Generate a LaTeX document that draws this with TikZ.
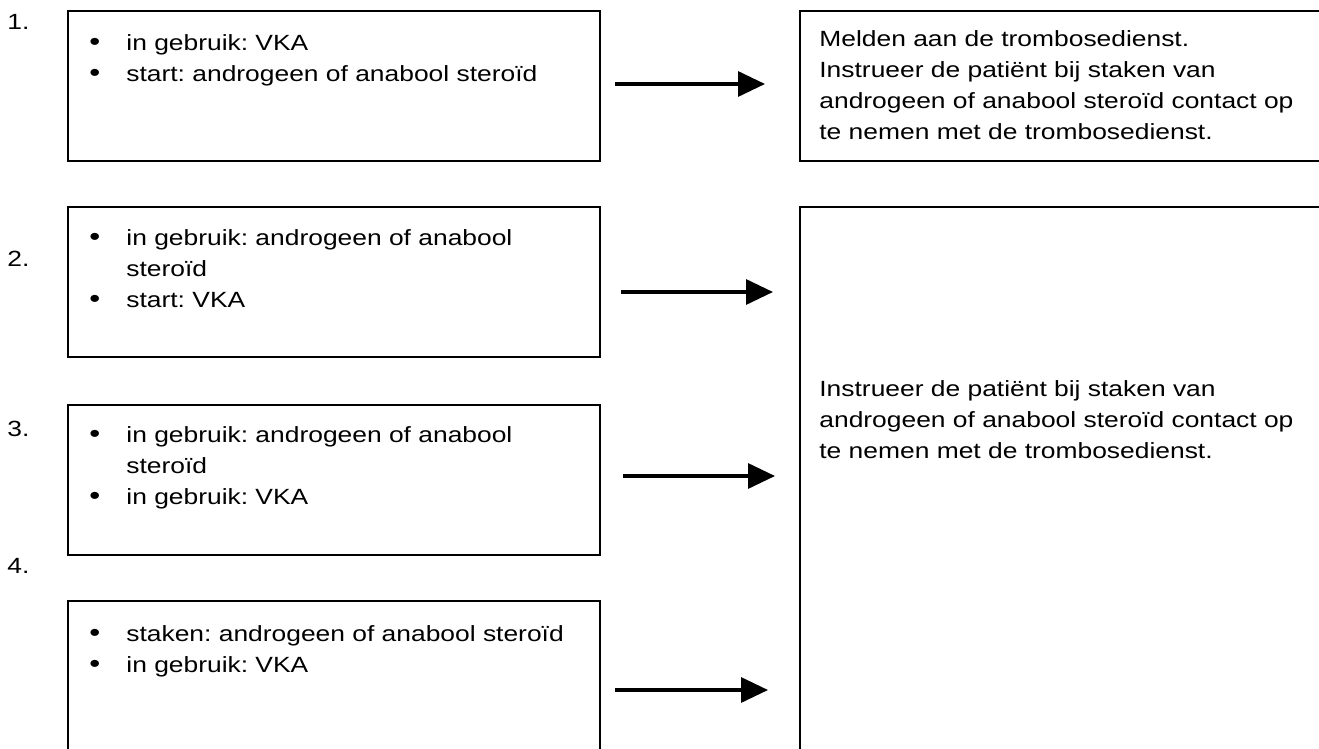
\documentclass[tikz,border=0pt]{standalone}
\usepackage{fontspec}
\setmainfont{Liberation Sans}[FakeStretch=1.2]
\usepackage{tikz}
\usetikzlibrary{arrows.meta,positioning}

\newcommand{\itm}[1]{\makebox[18.5pt][l]{\fontsize{13pt}{13pt}\selectfont\textbullet}#1}
\newcommand{\cnt}[1]{\hspace*{18.5pt}#1}
\newcommand{\boxfont}{\fontsize{11pt}{15.5pt}\selectfont\lineskiplimit-20pt\relax\frenchspacing}

\begin{document}
\begin{tikzpicture}[x=0.5pt,y=-0.5pt]
            \tikzstyle{every node}+=[inner sep=0pt, font=\boxfont]
            \tikzstyle{box}=[draw=black, line width=0.85pt, rectangle, minimum width=266pt]
            % base west = baseline of the last line
            \tikzstyle{txt}=[anchor=base west, align=left]
            \tikzstyle{arr}=[line width=1.65pt, -{Triangle[length=13.5pt,width=12.5pt]}]
            \useasboundingbox (0,0) rectangle (1319,749);
            \clip (0,0) rectangle (1319,749);
            % left boxes
            \node [box, minimum height=75pt] (b1) at (334,86) {};
            \node [box, minimum height=75pt] (b2) at (334,282) {};
            \node [box, minimum height=75pt] (b3) at (334,480) {};
            \node [box, minimum height=90pt] (b4) at (334,691) {};
            \node [txt] (t1) at (89,82) {\itm{in gebruik: VKA}\\\itm{start: androgeen of anabool steroïd}};
            \node [txt] (t2) at (89,307) {\itm{in gebruik: androgeen of anabool}\\\cnt{steroïd}\\\itm{start: VKA}};
            \node [txt] (t3) at (89,504) {\itm{in gebruik: androgeen of anabool}\\\cnt{steroïd}\\\itm{in gebruik: VKA}};
            \node [txt] (t4) at (89,672) {\itm{staken: androgeen of anabool steroïd}\\\itm{in gebruik: VKA}};
            % numbers
            \node [txt] (n1) at (7,30) {1.};
            \node [txt] (n2) at (7,266) {2.};
            \node [txt] (n3) at (7,436) {3.};
            \node [txt] (n4) at (7,573) {4.};
            % right boxes
            \node [box, minimum width=270pt, minimum height=75pt] (r1) at (1070,86) {};
            \node [box, minimum width=270pt, minimum height=290pt] (r2) at (1070,497) {};
            \node [txt] (s1) at (819,140) {Melden aan de trombosedienst.\\Instrueer de patiënt bij staken van\\androgeen of anabool steroïd contact op\\te nemen met de trombosedienst.};
            \node [txt] (s2) at (819,458) {Instrueer de patiënt bij staken van\\androgeen of anabool steroïd contact op\\te nemen met de trombosedienst.};
            % arrows
            \coordinate (a1) at (615,84);
            \coordinate (e1) at (765,84);
            \coordinate (a2) at (621,292);
            \coordinate (e2) at (773,292);
            \coordinate (a3) at (623,476);
            \coordinate (e3) at (775,476);
            \coordinate (a4) at (615,690);
            \coordinate (e4) at (768,690);
            \draw [arr] (a1) -- (e1);
            \draw [arr] (a2) -- (e2);
            \draw [arr] (a3) -- (e3);
            \draw [arr] (a4) -- (e4);
\end{tikzpicture}
\end{document}
